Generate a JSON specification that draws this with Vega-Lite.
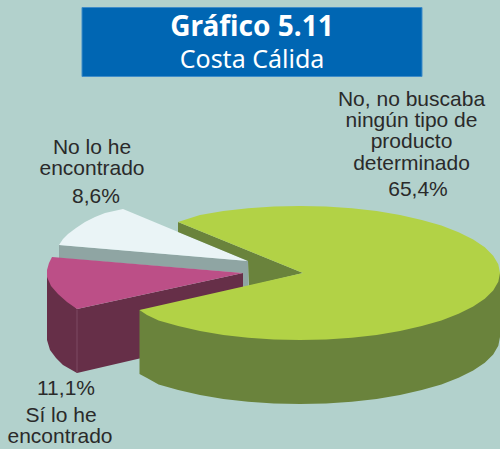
{
"$schema":"https://vega.github.io/schema/vega-lite/v6.json",
"width":500,"height":449,"padding":0,"autosize":{"type":"none"},
"background":"#b2d1cc",
"config":{"view":{"stroke":null}},
"datasets":{
"shapes":[
{"part":"Grey edge","i":1,"x":59,"y":245},{"part":"Grey edge","i":2,"x":248,"y":261},{"part":"Grey edge","i":3,"x":248.5,"y":286},{"part":"Grey edge","i":4,"x":243,"y":287},{"part":"Grey edge","i":5,"x":243,"y":273},{"part":"Grey edge","i":6,"x":59,"y":258},{"part":"Grey edge","i":7,"x":59,"y":245},
{"part":"No lo he encontrado","i":1,"x":59,"y":245},{"part":"No lo he encontrado","i":2,"x":63,"y":239},{"part":"No lo he encontrado","i":3,"x":68,"y":234},{"part":"No lo he encontrado","i":4,"x":76,"y":228},{"part":"No lo he encontrado","i":5,"x":85,"y":222},{"part":"No lo he encontrado","i":6,"x":95,"y":217},{"part":"No lo he encontrado","i":7,"x":105,"y":213},{"part":"No lo he encontrado","i":8,"x":114,"y":211},{"part":"No lo he encontrado","i":9,"x":123,"y":209},{"part":"No lo he encontrado","i":10,"x":248,"y":261},{"part":"No lo he encontrado","i":11,"x":59,"y":245},
{"part":"Plum wall","i":1,"x":47,"y":275},{"part":"Plum wall","i":2,"x":47,"y":340},{"part":"Plum wall","i":3,"x":50,"y":350},{"part":"Plum wall","i":4,"x":56,"y":358},{"part":"Plum wall","i":5,"x":63,"y":365},{"part":"Plum wall","i":6,"x":77,"y":373},{"part":"Plum wall","i":7,"x":139.5,"y":358.5},{"part":"Plum wall","i":8,"x":243,"y":335},{"part":"Plum wall","i":9,"x":243,"y":273},{"part":"Plum wall","i":10,"x":77,"y":309},{"part":"Plum wall","i":11,"x":47,"y":275},
{"part":"Sí lo he encontrado","i":1,"x":52,"y":257},{"part":"Sí lo he encontrado","i":2,"x":243,"y":273},{"part":"Sí lo he encontrado","i":3,"x":77,"y":309},{"part":"Sí lo he encontrado","i":4,"x":67,"y":302},{"part":"Sí lo he encontrado","i":5,"x":58,"y":294},{"part":"Sí lo he encontrado","i":6,"x":51,"y":286},{"part":"Sí lo he encontrado","i":7,"x":47,"y":277},{"part":"Sí lo he encontrado","i":8,"x":47,"y":270},{"part":"Sí lo he encontrado","i":9,"x":49,"y":263},{"part":"Sí lo he encontrado","i":10,"x":52,"y":257},
{"part":"Green notch","i":1,"x":178,"y":222},{"part":"Green notch","i":2,"x":303,"y":273},{"part":"Green notch","i":3,"x":249,"y":286},{"part":"Green notch","i":4,"x":248,"y":261},{"part":"Green notch","i":5,"x":178,"y":232},{"part":"Green notch","i":6,"x":178,"y":222},
{"part":"Green wall","i":1,"x":139.5,"y":310},{"part":"Green wall","i":2,"x":139.5,"y":374},{"part":"Green wall","i":3,"x":147,"y":378},{"part":"Green wall","i":4,"x":158.6,"y":384.4},{"part":"Green wall","i":5,"x":178.2,"y":390.1},{"part":"Green wall","i":6,"x":200,"y":395},{"part":"Green wall","i":7,"x":223.4,"y":398.9},{"part":"Green wall","i":8,"x":248.2,"y":401.7},{"part":"Green wall","i":9,"x":273.9,"y":403.4},{"part":"Green wall","i":10,"x":300,"y":404},{"part":"Green wall","i":11,"x":326.1,"y":403.4},{"part":"Green wall","i":12,"x":351.8,"y":401.7},{"part":"Green wall","i":13,"x":376.6,"y":398.9},{"part":"Green wall","i":14,"x":400,"y":395},{"part":"Green wall","i":15,"x":421.8,"y":390.1},{"part":"Green wall","i":16,"x":441.4,"y":384.4},{"part":"Green wall","i":17,"x":458.6,"y":377.8},{"part":"Green wall","i":18,"x":473.2,"y":370.5},{"part":"Green wall","i":19,"x":484.8,"y":362.7},{"part":"Green wall","i":20,"x":493.2,"y":354.4},{"part":"Green wall","i":21,"x":498.3,"y":345.7},{"part":"Green wall","i":22,"x":500,"y":337},{"part":"Green wall","i":23,"x":500,"y":273},{"part":"Green wall","i":24,"x":139.5,"y":310},
{"part":"No, no buscaba","i":1,"x":303,"y":273},{"part":"No, no buscaba","i":2,"x":178,"y":222},{"part":"No, no buscaba","i":3,"x":200,"y":215},{"part":"No, no buscaba","i":4,"x":223.4,"y":211.1},{"part":"No, no buscaba","i":5,"x":248.2,"y":208.3},{"part":"No, no buscaba","i":6,"x":273.9,"y":206.6},{"part":"No, no buscaba","i":7,"x":300,"y":206},{"part":"No, no buscaba","i":8,"x":326.1,"y":206.6},{"part":"No, no buscaba","i":9,"x":351.8,"y":208.3},{"part":"No, no buscaba","i":10,"x":376.6,"y":211.1},{"part":"No, no buscaba","i":11,"x":400,"y":215},{"part":"No, no buscaba","i":12,"x":421.8,"y":219.9},{"part":"No, no buscaba","i":13,"x":441.4,"y":225.6},{"part":"No, no buscaba","i":14,"x":458.6,"y":232.2},{"part":"No, no buscaba","i":15,"x":473.2,"y":239.5},{"part":"No, no buscaba","i":16,"x":484.8,"y":247.3},{"part":"No, no buscaba","i":17,"x":493.2,"y":255.7},{"part":"No, no buscaba","i":18,"x":498.3,"y":264.3},{"part":"No, no buscaba","i":19,"x":500,"y":273},{"part":"No, no buscaba","i":20,"x":498.3,"y":281.7},{"part":"No, no buscaba","i":21,"x":493.2,"y":290.4},{"part":"No, no buscaba","i":22,"x":484.8,"y":298.7},{"part":"No, no buscaba","i":23,"x":473.2,"y":306.5},{"part":"No, no buscaba","i":24,"x":458.6,"y":313.8},{"part":"No, no buscaba","i":25,"x":441.4,"y":320.4},{"part":"No, no buscaba","i":26,"x":421.8,"y":326.1},{"part":"No, no buscaba","i":27,"x":400,"y":331},{"part":"No, no buscaba","i":28,"x":376.6,"y":334.9},{"part":"No, no buscaba","i":29,"x":351.8,"y":337.7},{"part":"No, no buscaba","i":30,"x":326.1,"y":339.4},{"part":"No, no buscaba","i":31,"x":300,"y":340},{"part":"No, no buscaba","i":32,"x":273.9,"y":339.4},{"part":"No, no buscaba","i":33,"x":248.2,"y":337.7},{"part":"No, no buscaba","i":34,"x":223.4,"y":334.9},{"part":"No, no buscaba","i":35,"x":200,"y":331},{"part":"No, no buscaba","i":36,"x":178.2,"y":326.1},{"part":"No, no buscaba","i":37,"x":158.6,"y":320.4},{"part":"No, no buscaba","i":38,"x":147,"y":315},{"part":"No, no buscaba","i":39,"x":139.5,"y":310},{"part":"No, no buscaba","i":40,"x":303,"y":273}
],
"labels":[
{"text":"No, no buscaba","x":411.5,"y":106},{"text":"ningún tipo de","x":411.5,"y":127},{"text":"producto","x":411.5,"y":148},{"text":"determinado","x":411.5,"y":170},{"text":"65,4%","x":418,"y":196},
{"text":"No lo he","x":92,"y":153.5},{"text":"encontrado","x":92,"y":175},{"text":"8,6%","x":96,"y":203},
{"text":"11,1%","x":66,"y":395},{"text":"Sí lo he","x":61,"y":422},{"text":"encontrado","x":60,"y":443}
]
},
"layer":[
{"data":{"values":[{"x":82,"x2":422,"y":7.5,"y2":76.5}]},
 "mark":{"type":"rect","fill":"#0066b3","stroke":"#3f8cc8","strokeWidth":1},
 "encoding":{"x":{"field":"x","type":"quantitative","scale":{"domain":[0,500],"range":[0,500]},"axis":null},"x2":{"field":"x2"},"y":{"field":"y","type":"quantitative","scale":{"domain":[449,0],"range":[449,0]},"axis":null},"y2":{"field":"y2"}}},
{"data":{"values":[{"t":"Gráfico 5.11","x":252,"y":36}]},
 "mark":{"type":"text","font":"Noto Sans","fontWeight":"bold","fontSize":28,"fill":"white","align":"center","baseline":"alphabetic"},
 "encoding":{"x":{"field":"x","type":"quantitative","scale":{"domain":[0,500]},"axis":null},"y":{"field":"y","type":"quantitative","scale":{"domain":[449,0]},"axis":null},"text":{"field":"t"}}},
{"data":{"values":[{"t":"Costa Cálida","x":252,"y":68}]},
 "mark":{"type":"text","font":"Noto Sans","fontSize":25,"fill":"white","align":"center","baseline":"alphabetic"},
 "encoding":{"x":{"field":"x","type":"quantitative","scale":{"domain":[0,500]},"axis":null},"y":{"field":"y","type":"quantitative","scale":{"domain":[449,0]},"axis":null},"text":{"field":"t"}}},
{"data":{"name":"shapes"},
 "mark":{"type":"line","strokeWidth":0,"clip":true},
 "encoding":{
  "x":{"field":"x","type":"quantitative","scale":{"domain":[0,500]},"axis":null},
  "y":{"field":"y","type":"quantitative","scale":{"domain":[449,0]},"axis":null},
  "order":{"field":"i","type":"quantitative"},
  "fill":{"field":"part","type":"nominal","legend":null,"sort":null,"scale":{"domain":["Grey edge","No lo he encontrado","Plum wall","Sí lo he encontrado","Green notch","Green wall","No, no buscaba"],"range":["#8fa5a3","#eaf4f6","#662f48","#bc4f87","#6a833c","#6a833c","#b2d246"]}}}},
{"data":{"values":[{"x":77,"y":309.5},{"x":77,"y":372.5}]},
 "mark":{"type":"line","stroke":"#7d4b63","strokeWidth":1},
 "encoding":{"x":{"field":"x","type":"quantitative","scale":{"domain":[0,500]},"axis":null},"y":{"field":"y","type":"quantitative","scale":{"domain":[449,0]},"axis":null}}},
{"data":{"name":"labels"},
 "mark":{"type":"text","font":"Liberation Sans","fontSize":21,"fill":"#2a2a2a","align":"center","baseline":"alphabetic"},
 "encoding":{"x":{"field":"x","type":"quantitative","scale":{"domain":[0,500]},"axis":null},"y":{"field":"y","type":"quantitative","scale":{"domain":[449,0]},"axis":null},"text":{"field":"text"}}}
]
}
